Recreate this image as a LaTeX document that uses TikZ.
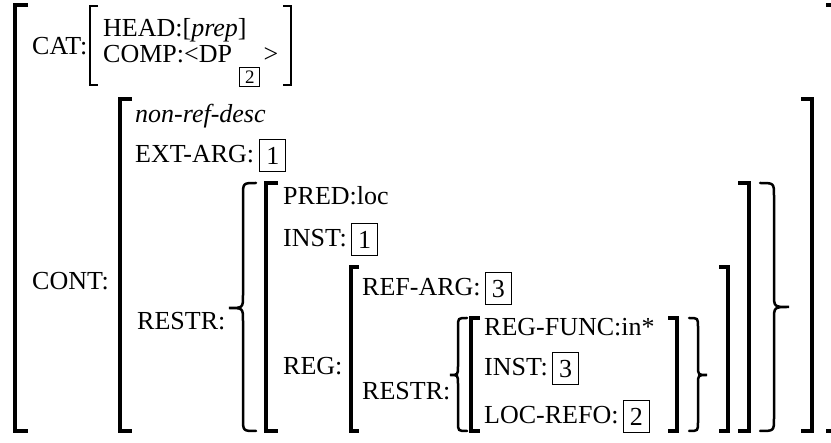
\documentclass[tikz,border=0pt]{standalone}
\usepackage{fontspec}
\setmainfont{Liberation Serif}
\tikzset{
  lbl/.style={anchor=base west, inner sep=0pt, font=\fontsize{26}{30}\selectfont},
  tagbox/.style={draw, line width=1.1pt, minimum width=26pt, minimum height=32pt, inner sep=0pt,
    text height=17.6pt, text depth=0pt, anchor=north west, font=\fontsize{26}{30}\selectfont},
  subbox/.style={draw, line width=1.1pt, minimum width=20pt, minimum height=19pt, inner sep=0pt,
    text height=13pt, text depth=0pt, anchor=north west, font=\fontsize{19}{21}\selectfont},
  brk/.style={line width=3.6pt},
  sbrk/.style={line width=2.2pt},
  brc/.style={line width=2.5pt, line cap=round},
}
\newcommand\Brk[5][brk]{\draw[#1] (#3,#4) -- (#2,#4) -- (#2,#5) -- (#3,#5);}
\newcommand\Brc[7]{\draw[brc] (#1,#4) .. controls (#2,#4) .. ({#2},{#4+#7}) -- ({#2},{#5-#7})
  .. controls (#2,#5) .. (#3,#5) .. controls (#2,#5) .. ({#2},{#5+#7}) -- ({#2},{#6-#7})
  .. controls (#2,#6) .. (#1,#6);}
\begin{document}
\begin{tikzpicture}[x=1pt, y=-1pt]
\useasboundingbox (0,0) rectangle (831,443);
% outer matrix
\Brk{15}{28}{5}{431}
\Brk{833}{826}{5}{431}
% CAT
\node[lbl] (cat) at (32,55) {CAT:};
\Brk[sbrk]{90}{98}{6}{85}
\node[lbl] (head) at (103,37) {HEAD:[\textit{prep}]};
\node[lbl] (comp) at (103,63) {COMP:<DP};
\node[subbox] (b2a) at ([shift={(7,4)}]comp.base east) {2};
\node[lbl, xshift=3pt] (gt) at (b2a.east |- comp.base) {>};
\Brk[sbrk]{291}{283}{6}{85}
% CONT
\node[lbl] (cont) at (32,290) {CONT:};
\Brk{120}{132}{99}{431}
\Brk{812}{801}{99}{431}
\node[lbl] (nrd) at (135,123) {\textit{non-ref-desc}};
\node[lbl] (ext) at (135,163) {EXT-ARG:};
\node[tagbox] (b1a) at ([shift={(5,-24)}]ext.base east) {1};
\node[lbl] (restr) at (137,330) {RESTR:};
\Brc{256}{243}{229}{183}{308}{431}{13}
\Brc{760}{774}{789}{183}{307}{431}{13}
% PRED matrix
\Brk{266}{278}{183}{431}
\Brk{749}{738}{183}{431}
\node[lbl] (pred) at (283,205) {PRED:loc};
\node[lbl] (inst) at (283,247) {INST:};
\node[tagbox] (b1b) at ([shift={(4,-24)}]inst.base east) {1};
\node[lbl] (reg) at (283,375) {REG:};
% REG matrix
\Brk{351}{359}{267}{431}
\Brk{728}{719}{267}{431}
\node[lbl] (refarg) at (362,296) {REF-ARG:};
\node[tagbox] (b3a) at ([shift={(4,-24)}]refarg.base east) {3};
\node[lbl] (restr2) at (362,400) {RESTR:};
\Brc{467}{458}{450}{318}{375}{431}{9}
\Brc{689}{698}{707}{318}{375}{431}{9}
\Brk{471}{480}{318}{431}
\Brk{677}{668}{318}{431}
\node[lbl] (regfunc) at (484,336) {REG-FUNC:in*};
\node[lbl] (inst2) at (484,376) {INST:};
\node[tagbox] (b3b) at ([shift={(4,-24)}]inst2.base east) {3};
\node[lbl] (locrefo) at (484,424) {LOC-REFO:};
\node[tagbox] (b2b) at ([shift={(4,-24)}]locrefo.base east) {2};
\end{tikzpicture}
\end{document}
